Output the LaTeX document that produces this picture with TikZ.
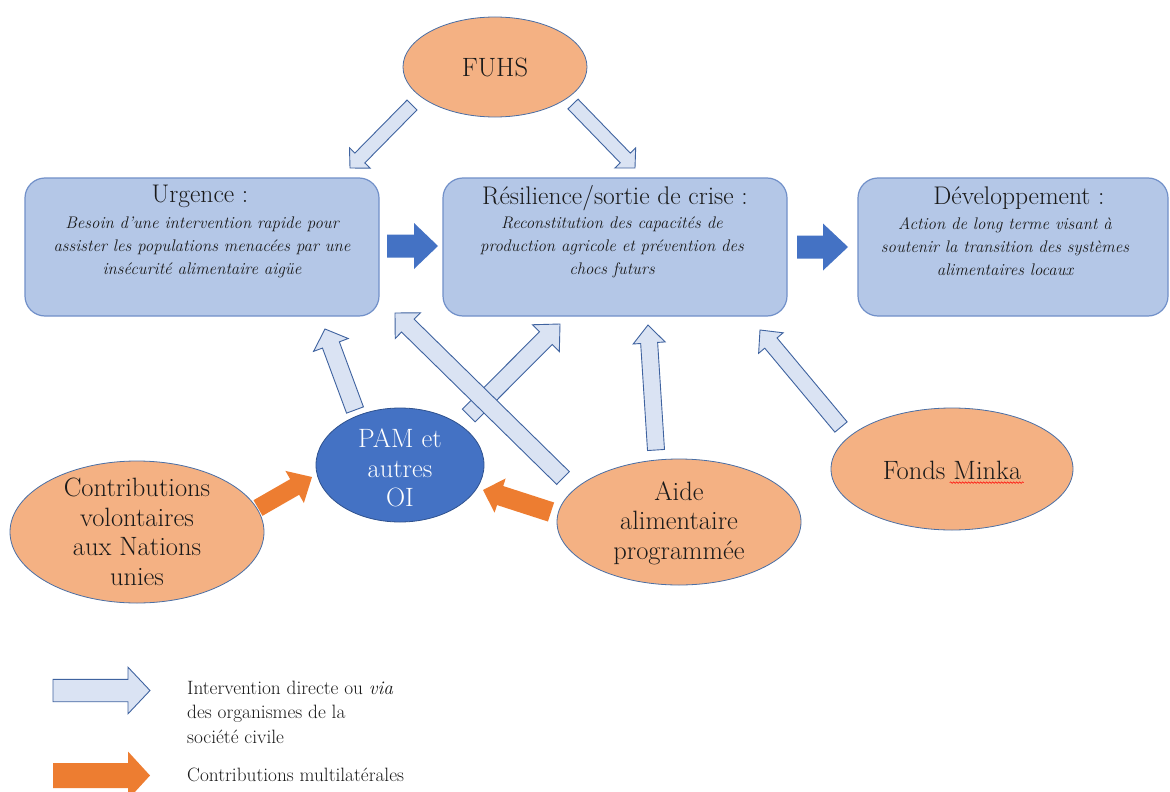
\documentclass[tikz,border=0pt]{standalone}
\usepackage{fontspec}
\usetikzlibrary{calc,shapes.geometric,decorations.pathmorphing}
\definecolor{cBoxFill}{HTML}{B4C7E7}
\definecolor{cBoxLine}{HTML}{7190C9}
\definecolor{cOvalFill}{HTML}{F4B183}
\definecolor{cOvalLine}{HTML}{4A6FA5}
\definecolor{cLightFill}{HTML}{DAE3F3}
\definecolor{cLightLine}{HTML}{3F63A0}
\definecolor{cMidBlue}{HTML}{4472C4}
\definecolor{cDarkBlue}{HTML}{2F528F}
\definecolor{cOrange}{HTML}{ED7D31}
\definecolor{cText}{HTML}{1A1A1A}
% #1 style, #2 tail, #3 tip, #4 half shaft, #5 half head, #6 head length
\newcommand\blockarrow[6]{%
  \coordinate (baC) at ($(#3)!#6!(#2)$);
  \path[#1] ($(#2)!#4!90:(#3)$) -- ($(baC)!#4!90:(#3)$) -- ($(baC)!#5!90:(#3)$)
    -- (#3) -- ($(baC)!#5!-90:(#3)$) -- ($(baC)!#4!-90:(#3)$) -- ($(#2)!#4!-90:(#3)$) -- cycle;
}
\begin{document}
\begin{tikzpicture}[x=1pt,y=-1pt,
  box/.style={draw=cBoxLine, line width=1.2pt, fill=cBoxFill, rounded corners=20pt, inner sep=0pt, minimum height=138pt},
  oval/.style={ellipse, draw=cOvalLine, line width=0.8pt, fill=cOvalFill, inner sep=0pt},
  pam/.style={ellipse, draw=cDarkBlue, line width=0.8pt, fill=cMidBlue, inner sep=0pt},
  ovaltext/.style={align=center, text=cText, font=\fontsize{26.5}{29.6}\selectfont},
  heading/.style={text=cText, font=\fontsize{25.5}{28}\selectfont},
  desc/.style={align=center, text=cText, font=\itshape\fontsize{16.8}{23}\selectfont},
  legendtext/.style={align=left, anchor=west, inner sep=0pt, text=cText, font=\fontsize{19.3}{24.5}\selectfont},
  lightarrow/.style={fill=cLightFill, draw=cLightLine, line width=0.9pt, line join=miter},
  bluearrow/.style={fill=cMidBlue},
  orangearrow/.style={fill=cOrange}
]
\useasboundingbox[fill=white] (0,0) rectangle (1170,792);

% boxes
\node[box, minimum width=354pt] (urg) at (202,247) {};
\node[heading] (urgh) at (200,196) {Urgence :};
\node[desc] (urgd) at (202,247) {Besoin d’une intervention rapide pour\\assister les populations menacées par une\\insécurité alimentaire aigüe};

\node[box, minimum width=344pt] (res) at (615,247) {};
\node[heading] (resh) at (615,198) {Résilience/sortie de crise :};
\node[desc] (resd) at (612,247) {Reconstitution des capacités de\\production agricole et prévention des\\chocs futurs};

\node[box, minimum width=310pt] (dev) at (1013,247) {};
\node[heading] (devh) at (1019,198) {Développement :};
\node[desc] (devd) at (1005,247) {Action de long terme visant à\\soutenir la transition des systèmes\\alimentaires locaux};

% ovals
\node[oval, minimum width=184pt, minimum height=100pt] (fuhs) at (495,67) {};
\node[ovaltext] at (fuhs.center) {FUHS};

\node[oval, minimum width=254pt, minimum height=142pt] (contrib) at (137,532) {};
\node[ovaltext] at (137,532) {Contributions\\volontaires\\aux Nations\\unies};

\node[pam, minimum width=168pt, minimum height=114pt] (pam) at (400,465) {};
\node[ovaltext, text=white] at (400,468) {PAM et\\autres\\OI};

\node[oval, minimum width=244pt, minimum height=126pt] (aide) at (679,522) {};
\node[ovaltext] at (679,523) {Aide\\alimentaire\\programmée};

\node[oval, minimum width=242pt, minimum height=122pt] (minka) at (952,469) {};
\node[ovaltext] (fm) at (952,470) {Fonds Minka};
\draw[red, line width=0.5pt, decorate, decoration={snake, amplitude=0.8pt, segment length=3pt}]
  ($(fm.base east)+(-75,3.5)$) -- ($(fm.base east)+(-1,3.5)$);

% arrow end points
\coordinate (a1s) at (412,105); \coordinate (a1e) at (350,168);
\coordinate (a2s) at (573,104); \coordinate (a2e) at (635,168);
\coordinate (a3s) at (387,246); \coordinate (a3e) at (438,246);
\coordinate (a4s) at (797,247); \coordinate (a4e) at (848,247);
\coordinate (a5s) at (355,410); \coordinate (a5e) at (325,329);
\coordinate (a6s) at (468.7,415.5); \coordinate (a6e) at (560,324);
\coordinate (a7s) at (563,478); \coordinate (a7e) at (395,313);
\coordinate (a8s) at (656,450); \coordinate (a8e) at (648,325);
\coordinate (a9s) at (841,427); \coordinate (a9e) at (760,330);
\coordinate (o1s) at (258,508); \coordinate (o1e) at (312,477);
\coordinate (o2s) at (551,512); \coordinate (o2e) at (483,490);
\coordinate (l1s) at (53,690.5); \coordinate (l1e) at (150,690.5);
\coordinate (l2s) at (53,775.5); \coordinate (l2e) at (150,775.5);

\blockarrow{lightarrow}{a1s}{a1e}{7pt}{14.5pt}{14pt}
\blockarrow{lightarrow}{a2s}{a2e}{7pt}{14.5pt}{14pt}
\blockarrow{bluearrow}{a3s}{a3e}{11.5pt}{23pt}{24pt}
\blockarrow{bluearrow}{a4s}{a4e}{11.5pt}{23.5pt}{25pt}
\blockarrow{lightarrow}{a5s}{a5e}{9pt}{18.5pt}{17pt}
\blockarrow{lightarrow}{a6s}{a6e}{9pt}{19pt}{20pt}
\blockarrow{lightarrow}{a7s}{a7e}{9pt}{18pt}{18pt}
\blockarrow{lightarrow}{a8s}{a8e}{8.5pt}{16pt}{18pt}
\blockarrow{lightarrow}{a9s}{a9e}{8pt}{16pt}{17pt}
\blockarrow{orangearrow}{o1s}{o1e}{9pt}{18.5pt}{20pt}
\blockarrow{orangearrow}{o2s}{o2e}{10pt}{18pt}{18pt}

% legend
\blockarrow{lightarrow}{l1s}{l1e}{11.2pt}{23.3pt}{22pt}
\blockarrow{orangearrow}{l2s}{l2e}{12.5pt}{24pt}{22pt}
\node[legendtext] (lt1) at (187,712) {Intervention directe ou \textit{via}\\des organismes de la\\société civile};
\node[legendtext] (lt2) at (187,775) {Contributions multilatérales};
\end{tikzpicture}
\end{document}
